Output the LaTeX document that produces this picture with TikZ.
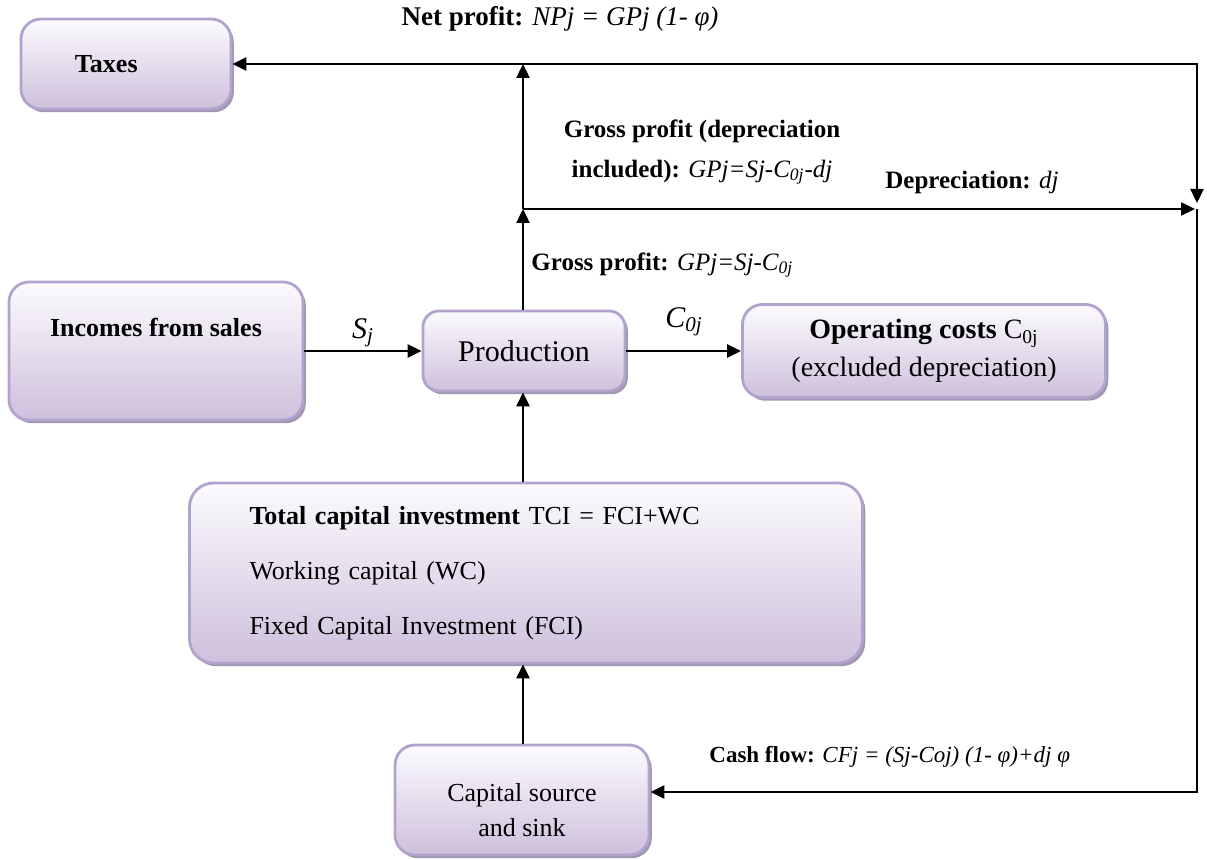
\documentclass[tikz,border=0pt]{standalone}
\usepackage{fontspec}
\setmainfont{Liberation Serif}
\usetikzlibrary{positioning,arrows.meta,shadows}
\definecolor{bg1}{RGB}{252,251,254}
\definecolor{bg2}{RGB}{206,192,220}
\definecolor{l1}{RGB}{178,162,206}
\definecolor{sh1}{RGB}{160,150,176}

\begin{document}
\begin{tikzpicture}[
    x=0.5pt, y=-0.5pt,
    e/.style={
        rounded corners=10pt, inner sep=0pt, align=center,
        top color=bg1, bottom color=bg2, draw=l1, line width=1.4pt,
        drop shadow={shadow xshift=1.4pt, shadow yshift=-1.6pt,
                     fill=sh1, opacity=1}
    },
    l/.style={line width=1.2pt},
    a/.style={line width=1.2pt, -{Triangle[length=7pt,width=6.5pt]}},
    t/.style={font=\fontsize{12.5}{15}\selectfont, inner sep=0pt}
]
\useasboundingbox (0,0) rectangle (1207,860);

% boxes
\node [e, minimum width=105pt, minimum height=45pt, text width=51pt, align=left,
       font=\fontsize{13}{15.6}\selectfont\bfseries] (tax) at (126,64) {Taxes};
\node [e, minimum width=147pt, minimum height=69pt, text height=9pt, text depth=23pt,
       font=\fontsize{13}{15.6}\selectfont\bfseries] (sales) at (156,351) {Incomes from sales};
\node [e, rounded corners=8pt, minimum width=101pt, minimum height=40pt,
       font=\fontsize{15}{18}\selectfont] (prod) at (524,351) {Production};
\node [e, minimum width=181.5pt, minimum height=46.5pt,
       font=\fontsize{14}{16.8}\selectfont] (ops) at (924,351)
      {\textbf{Operating costs} C\textsubscript{0j}\\[2pt](excluded depreciation)};
\node [e, rounded corners=12pt, minimum width=336.5pt, minimum height=90pt,
       inner xsep=30pt, text width=276.5pt, align=left,
       font=\fontsize{13}{15.6}\selectfont] (tci) at (526,573)
      {\textbf{Total capital investment} TCI = FCI+WC\\[12pt]
       Working capital (WC)\\[12pt]
       Fixed Capital Investment (FCI)};
\node [e, minimum width=127pt, minimum height=55pt,
       font=\fontsize{13}{15.6}\selectfont] (cap) at (522,800)
      {\rule{0pt}{19pt}Capital source\\[2pt]and sink};

% junctions
\coordinate (gp) at (523,209);
\coordinate (np) at (523,64);
\coordinate (tr) at (1197,64);
\coordinate (dr) at (1197,209);

% flows
\draw (sales) edge [a] (prod);
\draw (prod) edge [a] (ops);
\draw (gp |- tci.north) edge [a] (gp |- prod.south);
\draw (gp |- cap.north) edge [a] (gp |- tci.south);
\draw (gp |- prod.north) edge [a] (gp);
\draw (gp) edge [a] (np);
\draw (np) edge [a] (tax);
\draw [a] (np) -- (tr) -- ([yshift=3pt]dr);
\draw (gp) edge [a] ([xshift=-1pt]dr);
\draw [a] (dr) |- ([yshift=4pt]cap.east);

% labels
\node [t, font=\fontsize{13.5}{16}\selectfont] (nplbl) at (560,19) {\textbf{Net profit:} \textit{NPj = GPj (1- φ)}};
\node [t, align=center] (gdlbl) at (702,152)
      {\textbf{Gross profit (depreciation}\\[5pt]\textbf{included):} \textit{GPj=Sj-C\textsubscript{0j}-dj}};
\node [t, anchor=west] (deplbl) at (885,182) {\textbf{Depreciation:} \textit{dj}};
\node [t, anchor=west] (gplbl) at (531,265) {\textbf{Gross profit:} \textit{GPj=Sj-C\textsubscript{0j}}};
\node [t, font=\fontsize{15}{18}\selectfont] (sjlbl) at (363,333) {\textit{S}\textsubscript{\textit{j}}};
\node [t, font=\fontsize{15}{18}\selectfont] (c0lbl) at (684,322) {\textit{C\textsubscript{0j}}};
\node [t, anchor=west, font=\fontsize{11.5}{14}\selectfont] (cflbl) at (709,757)
      {\textbf{Cash flow:} \textit{CFj = (Sj-Coj) (1- φ)+dj φ}};

\end{tikzpicture}
\end{document}
